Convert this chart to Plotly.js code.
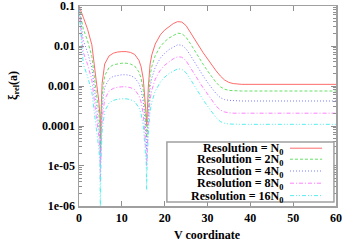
<!DOCTYPE html>
<html><head><meta charset="utf-8">
<script src="https://cdn.plot.ly/plotly-3.0.1.min.js"></script>
<style>html,body{margin:0;padding:0;background:#fff}#c{width:344px;height:242px}</style>
</head><body><div id="c"></div>
<script>
const vCoord = [0,0.5,1,2,3,4,4.6,4.9,5.0,5.1,5.4,6,7,8,9,10,11,12,13,14,14.5,15,15.4,15.7,15.8,15.9,16.2,16.6,17,17.8,19,20,21,22,23,24,25,26,27,28,29,30,31,32,33,34,35,36,38,60];
const resN0 = [1.00e-1,7.59e-2,5.25e-2,2.63e-2,1.07e-2,1.41e-3,4.47e-4,1.78e-4,5.01e-5,1.58e-4,1.17e-3,3.55e-3,5.62e-3,6.61e-3,7.08e-3,7.24e-3,7.24e-3,6.92e-3,6.17e-3,4.37e-3,3.02e-3,1.51e-3,5.62e-4,1.78e-4,1.00e-4,2.00e-4,1.00e-3,3.55e-3,6.03e-3,1.12e-2,1.91e-2,2.51e-2,3.09e-2,3.63e-2,4.07e-2,3.98e-2,3.24e-2,2.24e-2,1.48e-2,1.00e-2,6.76e-3,4.68e-3,3.31e-3,2.40e-3,1.78e-3,1.41e-3,1.23e-3,1.15e-3,1.10e-3,1.10e-3];
const res2N0 = [9.55e-2,5.01e-2,2.69e-2,1.35e-2,5.50e-3,7.24e-4,2.29e-4,9.12e-5,2.24e-5,8.13e-5,6.03e-4,1.82e-3,2.88e-3,3.39e-3,3.63e-3,3.72e-3,3.72e-3,3.55e-3,3.16e-3,2.24e-3,1.55e-3,7.76e-4,2.88e-4,9.12e-5,5.01e-5,1.02e-4,5.13e-4,1.82e-3,3.09e-3,5.75e-3,9.77e-3,1.29e-2,1.58e-2,1.86e-2,2.09e-2,2.04e-2,1.66e-2,1.15e-2,7.59e-3,5.13e-3,3.47e-3,2.40e-3,1.70e-3,1.23e-3,9.55e-4,8.32e-4,7.76e-4,7.59e-4,7.50e-4,7.50e-4];
const res4N0 = [9.12e-2,3.31e-2,1.38e-2,6.92e-3,2.82e-3,3.72e-4,1.17e-4,4.68e-5,1.00e-5,4.17e-5,3.09e-4,9.33e-4,1.48e-3,1.74e-3,1.86e-3,1.91e-3,1.91e-3,1.82e-3,1.62e-3,1.15e-3,7.94e-4,3.98e-4,1.48e-4,4.68e-5,2.51e-5,5.25e-5,2.63e-4,9.33e-4,1.58e-3,2.95e-3,5.01e-3,6.61e-3,8.13e-3,9.55e-3,1.07e-2,1.05e-2,8.51e-3,5.89e-3,3.89e-3,2.63e-3,1.78e-3,1.23e-3,8.71e-4,6.46e-4,5.13e-4,4.57e-4,4.37e-4,4.27e-4,4.22e-4,4.22e-4];
const res8N0 = [8.71e-2,2.19e-2,6.92e-3,3.47e-3,1.41e-3,1.86e-4,5.89e-5,2.34e-5,3.98e-6,2.09e-5,1.55e-4,4.68e-4,7.41e-4,8.71e-4,9.33e-4,9.55e-4,9.55e-4,9.12e-4,8.13e-4,5.75e-4,3.98e-4,2.00e-4,7.41e-5,2.34e-5,1.00e-5,2.63e-5,1.32e-4,4.68e-4,7.94e-4,1.48e-3,2.51e-3,3.31e-3,4.07e-3,4.79e-3,5.37e-3,5.25e-3,4.27e-3,2.95e-3,1.95e-3,1.32e-3,8.91e-4,6.17e-4,4.37e-4,3.16e-4,2.51e-4,2.24e-4,2.14e-4,2.09e-4,2.09e-4,2.09e-4];
const res16N0 = [8.32e-2,1.45e-2,3.47e-3,1.74e-3,7.08e-4,9.33e-5,2.95e-5,1.17e-5,3.16e-7,1.05e-5,7.76e-5,2.34e-4,3.72e-4,4.37e-4,4.68e-4,4.79e-4,4.79e-4,4.57e-4,4.07e-4,2.88e-4,2.00e-4,1.00e-4,3.72e-5,1.17e-5,2.51e-6,1.32e-5,6.61e-5,2.34e-4,3.98e-4,7.41e-4,1.26e-3,1.66e-3,2.04e-3,2.40e-3,2.69e-3,2.63e-3,2.14e-3,1.48e-3,9.77e-4,6.61e-4,4.47e-4,3.16e-4,2.24e-4,1.62e-4,1.29e-4,1.17e-4,1.12e-4,1.10e-4,1.10e-4,1.10e-4];
const seriesNames = ['N<sub>0</sub>','2N<sub>0</sub>','4N<sub>0</sub>','8N<sub>0</sub>','16N<sub>0</sub>'];
const seriesData = [resN0,res2N0,res4N0,res8N0,res16N0];
const yTickVals = [1e-6,1e-5,1e-4,1e-3,1e-2,1e-1];
const yTickText = ['1e-06','1e-05','0.0001','0.001','0.01','0.1'];
const xTickVals = [0,10,20,30,40,50,60];

const colors = ['#ff6a6a','#66e066','#7a7aff','#ff80ff','#55eeee'];
const dashes = ['solid','3px,2px','1px,2px','4px,2px,1px,2px','4px,2px,1px,2px,1px,2px'];

const minorVals = [];
for (let d=-6; d<-1; d++) for (let m=2; m<10; m++) minorVals.push(m*Math.pow(10,d));

const traces = seriesData.map((ys,i)=>({
  x: vCoord, y: ys, type:'scatter', mode:'lines', showlegend:false,
  line:{color:colors[i], width:1, dash:dashes[i]}
}));

const font = {family:'Liberation Serif, Times New Roman, serif', size:12, color:'#000'};
const axCommon = {showline:true, linecolor:'#a0a0a0', linewidth:1.5, mirror:'allticks',
  ticks:'inside', ticklen:5, tickcolor:'#909090', tickwidth:1, showgrid:false, zeroline:false,
  ticklabeloverflow:'allow',
  tickfont:{family:font.family, size:12, color:'#000', weight:'bold'}};

const annotations = [
  {text:'<b>V coordinate</b>', xref:'paper', yref:'paper', x:0.5, y:-0.145, yanchor:'middle', xanchor:'center', showarrow:false, font:font},
  {text:'<b>ξ<sub>rel</sub>(a)</b>', xref:'paper', yref:'paper', x:-0.253, y:0.605, textangle:-90, xanchor:'center', yanchor:'middle', showarrow:false, font:font}
];
const legendRowY = [0.289,0.234,0.175,0.114,0.052];
const shapes = [{type:'rect', xref:'paper', yref:'paper', x0:0.342, x1:0.992, y0:0.02, y1:0.32, line:{color:'#a0a0a0', width:1.5}, fillcolor:'#fff', layer:'above'}];
seriesNames.forEach((n,i)=>{
  annotations.push({text:'<b>Resolution = '+n+'</b>', xref:'paper', yref:'paper', x:0.80, y:legendRowY[i]-0.005, xanchor:'right', yanchor:'middle', showarrow:false, font:font});
  shapes.push({type:'line', xref:'paper', yref:'paper', x0:0.821, x1:0.946, y0:legendRowY[i], y1:legendRowY[i], line:{color:colors[i], width:1, dash:dashes[i]}, layer:'above'});
});

const layout = {
  width:344, height:242, margin:{l:79, r:8, t:6, b:36},
  paper_bgcolor:'#fff', plot_bgcolor:'#fff', font:font, showlegend:false,
  xaxis: Object.assign({}, axCommon, {range:[0,60], tickvals:xTickVals, ticktext:xTickVals.map(String)}),
  yaxis: Object.assign({}, axCommon, {type:'log', range:[-6.0005,-0.9995], tickvals:yTickVals, ticktext:yTickText,
     minor:{tickvals:minorVals, ticks:'inside', ticklen:3, tickcolor:'#909090', showgrid:false}}),
  annotations: annotations, shapes: shapes
};
Plotly.newPlot('c', traces, layout, {staticPlot:true, displayModeBar:false});
</script></body></html>
